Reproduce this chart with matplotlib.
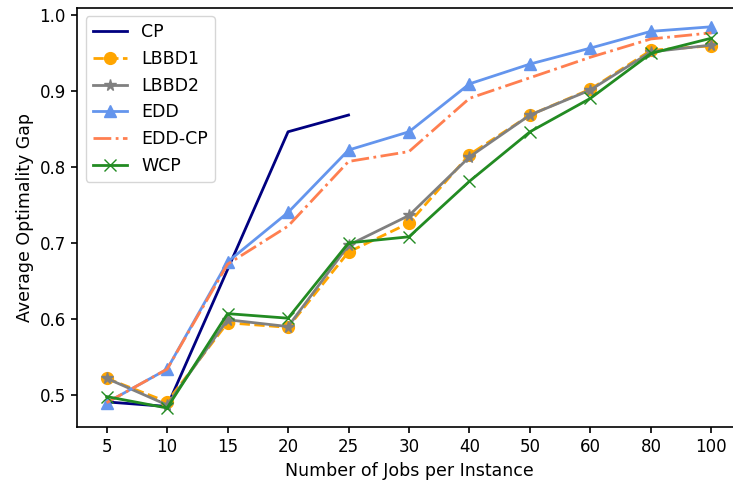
import matplotlib
matplotlib.use('Agg')
import matplotlib.pyplot as plt

jobs = ['5', '10', '15', '20', '25', '30', '40', '50', '60', '80', '100']

cp = [0.491, 0.485, 0.665, 0.846, 0.868]
lbbd1 = [0.522, 0.491, 0.595, 0.589, 0.688, 0.726, 0.816, 0.868, 0.902, 0.953, 0.959]
lbbd2 = [0.522, 0.487, 0.599, 0.590, 0.697, 0.736, 0.813, 0.868, 0.901, 0.951, 0.960]
edd = [0.490, 0.534, 0.675, 0.740, 0.822, 0.846, 0.909, 0.935, 0.956, 0.978, 0.984]
edd_cp = [0.490, 0.534, 0.672, 0.722, 0.807, 0.820, 0.890, 0.917, 0.944, 0.968, 0.976]
wcp = [0.498, 0.483, 0.607, 0.601, 0.700, 0.708, 0.781, 0.846, 0.890, 0.949, 0.969]

plt.rcParams['font.size'] = 12.5
plt.rcParams['xtick.labelsize'] = 12
plt.rcParams['ytick.labelsize'] = 12
plt.rcParams['axes.linewidth'] = 1.2
plt.rcParams['xtick.major.size'] = 4.5
plt.rcParams['ytick.major.size'] = 4.5
plt.rcParams['xtick.major.width'] = 1.2
plt.rcParams['ytick.major.width'] = 1.2

fig = plt.figure(figsize=(7.33, 4.82), dpi=100)
ax = fig.add_axes([0.105, 0.114, 0.906, 0.870])

x = list(range(len(jobs)))
lw = 2
ms = 8.5
ax.plot(x[:len(cp)], cp, color='navy', lw=lw, label='CP')
ax.plot(x, lbbd1, color='orange', ls='--', marker='o', lw=lw, ms=ms, label='LBBD1')
ax.plot(x, lbbd2, color='grey', marker='*', lw=lw, ms=ms, label='LBBD2')
ax.plot(x, edd, color='cornflowerblue', marker='^', lw=lw, ms=ms, label='EDD')
ax.plot(x, edd_cp, color='coral', ls='-.', lw=lw, label='EDD-CP')
ax.plot(x, wcp, color='forestgreen', marker='x', lw=lw, ms=ms, label='WCP')

ax.set_xticks(x)
ax.set_xticklabels(jobs)
ax.set_xlim(-0.49, 10.49)
ax.set_xlabel('Number of Jobs per Instance')
ax.set_ylabel('Average Optimality Gap')
ax.legend(loc='upper left')

fig.savefig('out.png', dpi=100)
